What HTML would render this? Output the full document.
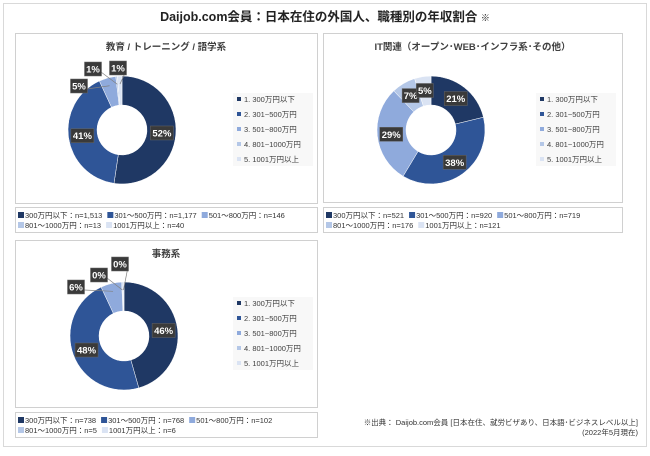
<!DOCTYPE html>
<html><head><meta charset="utf-8"><style>
body{margin:0;width:650px;height:451px;background:#fff;font-family:"Liberation Sans","Noto Sans CJK JP",sans-serif;overflow:hidden}
svg text{font-family:"Liberation Sans","Noto Sans CJK JP",sans-serif}
</style></head><body>
<svg id="s" width="650" height="451">
<rect x="3.5" y="3.5" width="643" height="443" fill="#fff" stroke="#d9d9d9"/>
<text x="325" y="21" text-anchor="middle" font-size="12.5" font-weight="bold" fill="#222">Daijob.com会員：日本在住の外国人、職種別の年収割合 <tspan font-size="9">※</tspan></text>
<text x="638" y="425" text-anchor="end" font-size="7.5" fill="#333">※出典： Daijob.com会員 [日本在住、就労ビザあり、日本語･ビジネスレベル以上]</text>
<text x="638" y="435" text-anchor="end" font-size="7.5" fill="#333">(2022年5月現在)</text>
</svg>
<script>
const categories=["1. 300万円以下","2. 301~500万円","3. 501~800万円","4. 801~1000万円","5. 1001万円以上"];
const shortCats=["300万円以下","301～500万円","501～800万円","801～1000万円","1001万円以上"];
const titles=["教育 / トレーニング / 語学系","IT関連（オープン･WEB･インフラ系･その他）","事務系"];
const eduValues=[1513,1177,146,13,40];
const itValues=[521,920,719,176,121];
const officeValues=[738,768,102,5,6];
const eduPctLabels=["52%","41%","5%","1%","1%"];
const itPctLabels=["21%","38%","29%","7%","5%"];
const officePctLabels=["46%","48%","6%","0%","0%"];
const colors=["#1f3864","#2f5597","#8faadc","#b4c7e7","#dae3f3"];
const S=document.getElementById('s');const NS="http://www.w3.org/2000/svg";
function mk(t,a,p){const e=document.createElementNS(NS,t);for(const k in a)e.setAttribute(k,a[k]);(p||S).appendChild(e);return e;}
const panels=[
 {v:eduValues,pl:eduPctLabels,px:15,py:33,pw:302,ph:170,cx:122,cy:130,lx:237,ly:101,bx:15,by:207,
  out:{2:[79,86],3:[93,69],4:[118,68]}},
 {v:itValues,pl:itPctLabels,px:323,py:33,pw:299,ph:169,cx:431,cy:130,lx:540,ly:101,bx:323,by:207,out:{}},
 {v:officeValues,pl:officePctLabels,px:15,py:240,pw:302,ph:167,cx:124,cy:336,lx:237,ly:305,bx:15,by:412,
  out:{2:[76,287],3:[99,275],4:[120,264]}}
];
panels.forEach((P,pi)=>{
 P.bw=P.pw;
 const r=mk('rect',{x:P.px+.5,y:P.py+.5,width:P.pw,height:P.ph,fill:'#fff',stroke:'#d0d0d0'});
 
 
 const t=mk('text',{x:P.px+P.pw/2,y:P.py+17,'text-anchor':'middle','font-size':9.5,'font-weight':'bold',fill:'#404040'});t.textContent=titles[pi];
 
 
 const total=P.v.reduce((a,b)=>a+b,0);
 const g=mk('g',{transform:`translate(${P.cx},${P.cy})`});
 const R=54,r0=25;let a0=0;const mids=[];
 P.v.forEach((v,i)=>{
  const a1=a0+v/total*2*Math.PI;
  const pt=(rr,a)=>[rr*Math.sin(a),-rr*Math.cos(a)];
  const [x1,y1]=pt(R,a0),[x2,y2]=pt(R,a1),[x3,y3]=pt(r0,a1),[x4,y4]=pt(r0,a0);
  const lg=(a1-a0)>Math.PI?1:0;
  const p=mk('path',{d:`M${x1},${y1}A${R},${R} 0 ${lg} 1 ${x2},${y2}L${x3},${y3}A${r0},${r0} 0 ${lg} 0 ${x4},${y4}Z`,fill:colors[i],stroke:'#fff','stroke-width':0.5},g);
  
  
  mids.push([(a0+a1)/2,v]);a0=a1;
 });
 mids.forEach(([a,v],i)=>{
  const pct=P.pl[i];
  let x=P.cx+40*Math.sin(a),y=P.cy-40*Math.cos(a);
  if(P.out[i]){const [ox,oy]=P.out[i];
   const ex=P.cx+46*Math.sin(a),ey=P.cy-46*Math.cos(a);
   const l=mk('line',{x1:ox+8,y1:oy+3,x2:ex,y2:ey,stroke:'#808080','stroke-width':0.7});
   
   
   x=ox;y=oy;}
  const w=pct.length>2?23:17;
  const b=mk('rect',{x:x-w/2,y:y-7,width:w,height:14,fill:'#3a3a3a',stroke:'#666','stroke-width':0.5});
  
  
  const tt=mk('text',{x:x,y:y+3.5,'text-anchor':'middle','font-size':9.5,'font-weight':'bold',fill:'#fff'});tt.textContent=pct;
  
  
 });
 const lb=mk('rect',{x:P.lx-4,y:P.ly-8,width:80,height:73,fill:'#f8f8f8'});
 
 
 categories.forEach((c,i)=>{
  const y=P.ly+i*15;
  const sq=mk('rect',{x:P.lx,y:y-4,width:4,height:4,fill:colors[i]});
  
  
  const tx=mk('text',{x:P.lx+7,y:y+1,'font-size':7.5,fill:'#404040'});tx.textContent=c;
  
  
 });
 const nb=mk('rect',{x:P.bx+.5,y:P.by+.5,width:P.bw,height:25,fill:'#fff',stroke:'#d0d0d0'});
 
 
 const fmt=n=>n.toLocaleString('en-US');
 let xs=P.bx+3;
 P.v.forEach((v,i)=>{
  const label=shortCats[i]+'：n='+fmt(v);
  const row=i<3?0:1;
  if(i===3)xs=P.bx+3;
  const y=P.by+9+row*10;
  const sq=mk('rect',{x:xs,y:y-4,width:6,height:6,fill:colors[i]});
  
  
  const tx=mk('text',{x:xs+7,y:y+2,'font-size':7.5,fill:'#333'});tx.textContent=label;
  
  
  xs+=tx.getComputedTextLength()+12;
 });
});
</script>
</body></html>
